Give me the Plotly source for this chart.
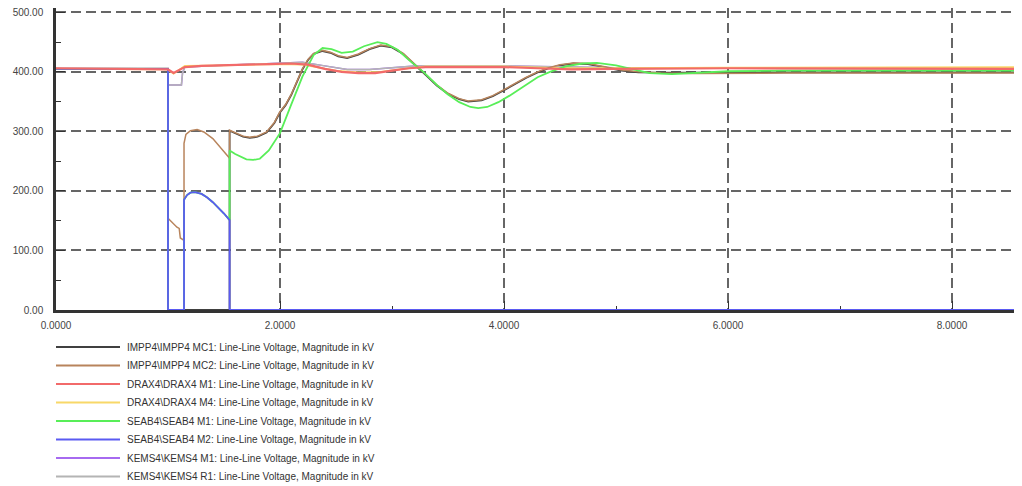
import plotly.graph_objects as go

# ---------------- data (time in s, voltage in kV) ----------------
names = [
    "IMPP4\\IMPP4 MC1: Line-Line Voltage, Magnitude in kV",
    "IMPP4\\IMPP4 MC2: Line-Line Voltage, Magnitude in kV",
    "DRAX4\\DRAX4 M1: Line-Line Voltage, Magnitude in kV",
    "DRAX4\\DRAX4 M4: Line-Line Voltage, Magnitude in kV",
    "SEAB4\\SEAB4 M1: Line-Line Voltage, Magnitude in kV",
    "SEAB4\\SEAB4 M2: Line-Line Voltage, Magnitude in kV",
    "KEMS4\\KEMS4 M1: Line-Line Voltage, Magnitude in kV",
    "KEMS4\\KEMS4 R1: Line-Line Voltage, Magnitude in kV",
]
colors = ["#404040", "#b8845c", "#f26a6a", "#f8d868", "#58ee58", "#5a5af2", "#a66af0", "#b4b4b4"]

impp_mc1_t = [0, 1.0, 1.0, 1.55, 1.55, 1.6, 1.67, 1.73, 1.8, 1.88, 1.95, 2.0, 2.05, 2.1, 2.15, 2.2, 2.25, 2.3,
              2.38, 2.45, 2.52, 2.6, 2.7, 2.8, 2.9, 3.0, 3.1, 3.2, 3.3, 3.4, 3.5, 3.6, 3.68, 3.8, 3.9, 4.0,
              4.1, 4.2, 4.3, 4.4, 4.5, 4.62, 4.75, 4.9, 5.05, 5.2, 5.4, 5.7, 6.5, 8.7]
impp_mc1_v = [405.5, 405.5, 0, 0, 301, 297, 291, 289, 291, 298, 314, 332, 344, 361, 384, 404, 420, 430,
              435, 432, 426, 423, 429, 438, 444, 441, 430, 413, 395, 377, 363, 354, 350, 352, 359, 369,
              380, 390, 399, 406, 411, 414, 413, 408, 402, 399, 398.5, 398.5, 399, 399]

impp_mc2_t = [0, 1.0, 1.0, 1.05, 1.08, 1.1, 1.11, 1.143, 1.143, 1.16, 1.2, 1.26, 1.32, 1.4, 1.48, 1.55, 1.55,
              1.6, 1.67, 1.73, 1.8, 1.88, 1.95, 2.0, 2.05, 2.1, 2.15, 2.2, 2.25, 2.3, 2.38, 2.45, 2.52, 2.6,
              2.7, 2.8, 2.9, 3.0, 3.1, 3.2, 3.3, 3.4, 3.5, 3.6, 3.68, 3.8, 3.9, 4.0, 4.1, 4.2, 4.3, 4.4,
              4.5, 4.62, 4.75, 4.9, 5.05, 5.2, 5.4, 5.7, 6.5, 8.7]
impp_mc2_v = [405, 405, 154, 144, 139, 137, 121, 117, 280, 295, 301, 303, 299, 288, 270, 255, 302,
              298, 292, 290, 292, 299, 315, 333, 345, 362, 385, 405, 421, 431, 436, 433, 427, 424,
              430, 439, 445, 442, 431, 414, 396, 378, 364, 355, 351, 353, 360, 370, 381, 391, 400, 407,
              412, 415, 414, 409, 403, 400, 398, 397, 398, 398]

drax_m1_t = [0, 1.0, 1.05, 1.1, 1.15, 1.3, 1.6, 1.9, 2.1, 2.25, 2.4, 2.55, 2.7, 2.85, 3.0, 3.15, 3.3, 4.0,
             4.3, 4.6, 5.0, 6.0, 8.7]
drax_m1_v = [406, 404, 398, 403, 408, 410, 411, 413, 414, 412, 405, 400, 398, 398, 402, 406, 408, 408,
             406, 404, 405, 406, 405]

drax_m4_t = [0, 1.0, 1.05, 1.1, 1.15, 1.5, 2.0, 2.2, 2.35, 2.5, 2.7, 2.9, 3.1, 3.3, 4.0, 4.5, 5.0, 6.0, 8.7]
drax_m4_v = [405, 404, 397, 404, 410, 411, 413, 412, 407, 402, 399, 400, 405, 409, 409, 406, 406, 407, 408]

seab_m1_t = [0, 1.0, 1.0, 1.143, 1.143, 1.17, 1.2, 1.24, 1.3, 1.35, 1.4, 1.45, 1.5, 1.55, 1.55, 1.6, 1.7,
             1.76, 1.82, 1.9, 2.0, 2.1, 2.2, 2.3, 2.38, 2.46, 2.55, 2.65, 2.75, 2.87, 2.95, 3.05, 3.15,
             3.28, 3.4, 3.5, 3.6, 3.7, 3.77, 3.85, 3.95, 4.05, 4.2, 4.3, 4.41, 4.55, 4.7, 4.83, 5.0,
             5.15, 5.3, 5.5, 5.7, 6.0, 6.5, 8.7]
seab_m1_v = [405, 405, 0, 0, 185, 193, 197, 198, 195, 189, 181, 172, 162, 151, 268, 262, 253,
             252, 254, 268, 297, 345, 392, 428, 440, 438, 432, 434, 443, 450, 447, 437, 420,
             400, 378, 362, 349, 341, 339, 341, 349, 360, 378, 391, 400, 409, 414, 415, 411,
             404, 398, 396, 398, 401, 402, 402]

seab_m2_t = [0, 1.0, 1.0, 1.143, 1.143, 1.17, 1.2, 1.24, 1.3, 1.35, 1.4, 1.45, 1.5, 1.55, 1.55, 8.7]
seab_m2_v = [405, 405, 0, 0, 185, 193, 197, 198, 195, 189, 181, 172, 162, 151, 0, 0]

kems_m1_t = [0, 1.0, 1.0, 1.12, 1.13, 1.15, 1.5, 2.0, 2.2, 2.4, 2.6, 2.8, 3.0, 3.2, 4.0, 4.5, 5.0, 6.0, 8.7]
kems_m1_v = [405, 405, 378, 378, 398, 408, 411, 415, 416, 410, 404, 404, 407, 410, 410, 408, 407, 406, 405]

kems_r1_t = [0, 1.0, 1.0, 1.12, 1.13, 1.15, 1.5, 2.0, 2.2, 2.4, 2.6, 2.8, 3.0, 3.2, 4.0, 4.5, 5.0, 6.0, 8.7]
kems_r1_v = [405, 405, 378, 378, 398, 408, 411, 415, 416, 410, 404, 404, 407, 410, 410, 408, 407, 406, 405]

x_ticks = [0, 2, 4, 6, 8]
x_tick_labels = ["0.0000", "2.0000", "4.0000", "6.0000", "8.0000"]
y_ticks = [0, 100, 200, 300, 400, 500]
y_tick_labels = ["0.00", "100.00", "200.00", "300.00", "400.00", "500.00"]

series = [
    (impp_mc1_t, impp_mc1_v),
    (impp_mc2_t, impp_mc2_v),
    (drax_m1_t, drax_m1_v),
    (drax_m4_t, drax_m4_v),
    (seab_m1_t, seab_m1_v),
    (seab_m2_t, seab_m2_v),
    (kems_m1_t, kems_m1_v),
    (kems_r1_t, kems_r1_v),
]

# drawing order (later on top)
order = [0, 6, 7, 3, 1, 4, 5, 2]
widths = [1.8, 1.5, 2.2, 1.8, 1.8, 1.8, 1.5, 1.5]

FONT = "Liberation Sans, Arial, sans-serif"
OFF = 8                      # page body margin offsets the figure by 8px
W, H = 1022 - OFF, 486 - OFF
ML, MR, MT, MB = 56 - OFF, 0, 8 - OFF, 486 - 310
PW, PH = W - ML - MR, H - MT - MB

fig = go.Figure()
for i in order:
    t, v = series[i]
    fig.add_trace(go.Scatter(x=t, y=v, mode="lines", name=names[i],
                             line=dict(color=colors[i], width=widths[i]),
                             showlegend=False, cliponaxis=False))

fig.update_layout(
    width=W, height=H,
    margin=dict(l=ML, r=MR, t=MT, b=MB, autoexpand=False),
    plot_bgcolor="white", paper_bgcolor="white",
    font=dict(family=FONT, size=10, color="#444"),
)

grid_common = dict(showgrid=True, gridcolor="#666666", gridwidth=1.5, griddash="10px,5px",
                   zeroline=False, showline=True, linecolor="#333333", linewidth=2.5,
                   ticks="inside", ticklen=9, tickcolor="#333333", tickwidth=1.2,
                   automargin=False, layer="below traces", ticklabeloverflow="allow")

fig.update_xaxes(range=[0, PW / 112.0], tickmode="array", tickvals=x_ticks, ticktext=x_tick_labels,
                 minor=dict(dtick=1, ticks="inside", ticklen=4, tickcolor="#333333", showgrid=False),
                 tickfont=dict(size=10, color="#444"), ticklabelstandoff=4, **grid_common)
fig.update_yaxes(range=[0, 500 + 4.3 / 0.596], tickmode="array", tickvals=y_ticks, ticktext=y_tick_labels,
                 minor=dict(dtick=50, ticks="inside", ticklen=5, tickcolor="#333333", showgrid=False),
                 tickfont=dict(size=10, color="#444"), ticklabelstandoff=8, **grid_common)

# manual legend below the plot (positions given in screen pixels)
def px_to_paper_x(px):
    return (px - OFF - ML) / PW

def px_to_paper_y(py):
    return (H - MB - (py - OFF)) / PH

row0, row_step = 347, 18.5
for k in range(len(names)):
    py = row0 + k * row_step
    fig.add_shape(type="line", xref="paper", yref="paper",
                  x0=px_to_paper_x(56), x1=px_to_paper_x(120),
                  y0=px_to_paper_y(py), y1=px_to_paper_y(py),
                  line=dict(color=colors[k], width=2.2))
    fig.add_annotation(xref="paper", yref="paper", x=px_to_paper_x(125), y=px_to_paper_y(py),
                       text=names[k], showarrow=False, xanchor="left", yanchor="middle",
                       font=dict(family=FONT, size=10, color="#333"))

fig.write_html("out.html")
